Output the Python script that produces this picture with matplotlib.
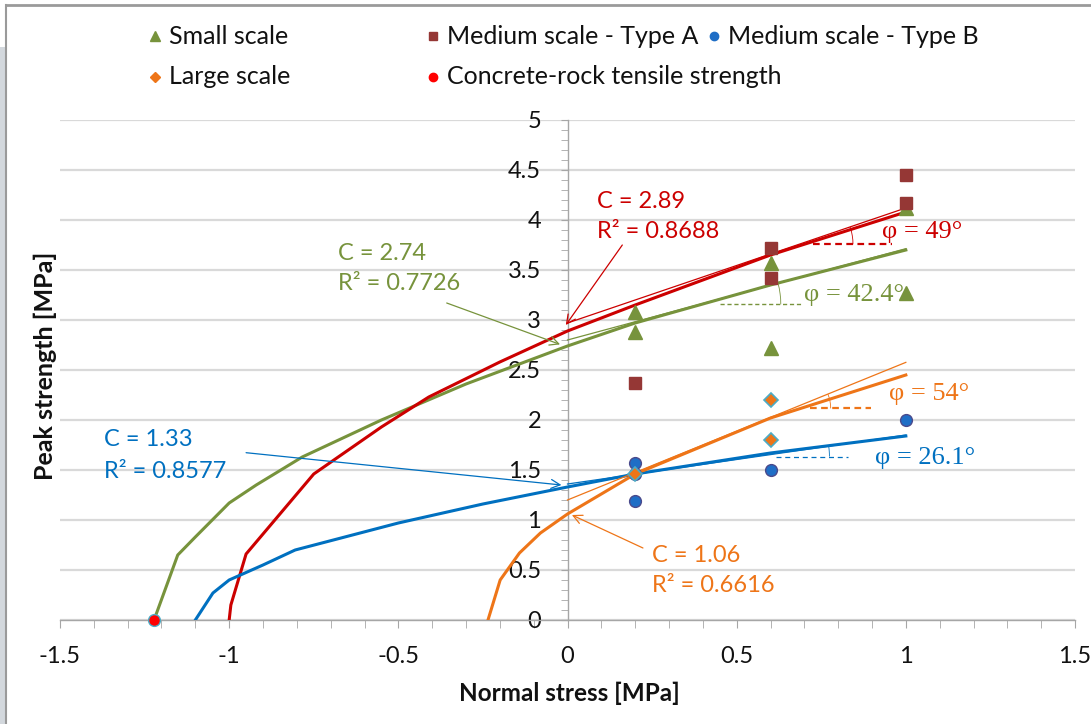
import matplotlib
matplotlib.use("Agg")
import math
import matplotlib.pyplot as plt
from matplotlib.lines import Line2D
from matplotlib.patches import Arc, Rectangle
from matplotlib.ticker import MultipleLocator

SANS = ["Lato", "DejaVu Sans"]
SERIF = ["Liberation Serif", "DejaVu Serif"]
plt.rcParams["font.family"] = SANS

# ---- measured peak strengths (MPa) ----
small_x = [0.2, 0.2, 0.6, 0.6, 1.0, 1.0]
small_y = [3.08, 2.88, 3.57, 2.72, 4.12, 3.27]
medium_a_x = [0.2, 0.6, 0.6, 1.0, 1.0]
medium_a_y = [2.37, 3.72, 3.42, 4.45, 4.17]
medium_b_x = [0.2, 0.2, 0.2, 0.6, 1.0]
medium_b_y = [1.57, 1.46, 1.19, 1.50, 2.00]
large_x = [0.2, 0.6, 0.6]
large_y = [1.46, 2.20, 1.80]
tensile_x = [-1.222]
tensile_y = [0.0]

# ---- fitted failure envelopes ----
small_fit_x = [-1.222, -1.152, -1.10, -1.00, -0.92, -0.784, -0.55, -0.30, 0.0, 0.2, 0.6, 1.0]
small_fit_y = [0.0, 0.65, 0.83, 1.17, 1.35, 1.63, 2.00, 2.36, 2.74, 2.97, 3.35, 3.70]
medium_a_fit_x = [-1.0, -0.995, -0.95, -0.75, -0.55, -0.41, -0.2, 0.0, 0.2, 0.6, 1.0]
medium_a_fit_y = [0.0, 0.15, 0.66, 1.46, 1.93, 2.23, 2.58, 2.89, 3.15, 3.65, 4.08]
medium_b_fit_x = [-1.10, -1.048, -1.0, -0.9, -0.805, -0.5, -0.25, 0.0, 0.2, 0.6, 1.0]
medium_b_fit_y = [0.0, 0.27, 0.40, 0.55, 0.70, 0.97, 1.16, 1.33, 1.46, 1.67, 1.84]
large_fit_x = [-0.235, -0.199, -0.142, -0.08, 0.0, 0.2, 0.6, 1.0]
large_fit_y = [0.0, 0.40, 0.67, 0.87, 1.06, 1.46, 2.02, 2.45]

# ---- fit parameters: cohesion, R², friction angle, tangent intercept ----
cohesion = {"small": 2.74, "medium_a": 2.89, "medium_b": 1.33, "large": 1.06}
r_squared = {"small": 0.7726, "medium_a": 0.8688, "medium_b": 0.8577, "large": 0.6616}
phi_deg = {"small": 42.4, "medium_a": 49, "medium_b": 26.1, "large": 54}
tangent_c = {"small": 2.80, "medium_a": 2.97, "medium_b": 1.36, "large": 1.20}

x_ticks = [-1.5, -1.0, -0.5, 0.0, 0.5, 1.0, 1.5]
x_tick_labels = ["-1.5", "-1", "-0.5", "0", "0.5", "1", "1.5"]
y_ticks = [0, 0.5, 1, 1.5, 2, 2.5, 3, 3.5, 4, 4.5, 5]
y_tick_labels = ["0", "0.5", "1", "1.5", "2", "2.5", "3", "3.5", "4", "4.5", "5"]

# ---- styling ----
GREEN = "#77933C"
RED = "#CC0000"
BLUE = "#0070C0"
ORANGE = "#EE7518"
SQUARE = "#953735"
PT_BLUE = "#1F6EC6"
PT_BLUE_EDGE = "#4A4A8C"
CYAN_EDGE = "#4BACC6"
GRID = "#D9D9D9"
AXIS = "#A6A6A6"

W, H = 1091, 724
fig = plt.figure(figsize=(W / 100, H / 100), dpi=100)
fig.patch.set_facecolor("white")


def fx(px):
    return px / W


def fy(py):
    return 1 - py / H


# window frame around the chart
fig.add_artist(Rectangle((0, 0), fx(5), fy(47), transform=fig.transFigure,
                         facecolor="#D3D8DD", edgecolor="none"))
fig.add_artist(Line2D([fx(6), fx(6)], [0, fy(5)], transform=fig.transFigure,
                      color="#9A9A9A", lw=1.5))
fig.add_artist(Line2D([fx(6), 1], [fy(5), fy(5)], transform=fig.transFigure,
                      color="#9A9A9A", lw=2))

ax = fig.add_axes([fx(60), fy(620), fx(1075) - fx(60), fy(120) - fy(620)])
ax.set_xlim(-1.5, 1.5)
ax.set_ylim(0, 5)
ax.set_facecolor("none")

for s in ("top", "right"):
    ax.spines[s].set_visible(False)
ax.spines["left"].set_position(("data", 0))
ax.spines["left"].set_color(AXIS)
ax.spines["bottom"].set_color(AXIS)
ax.spines["left"].set_linewidth(1.0)
ax.spines["bottom"].set_linewidth(1.0)

ax.set_xticks(x_ticks)
ax.set_xticklabels(x_tick_labels)
ax.set_yticks(y_ticks)
ax.set_yticklabels(y_tick_labels)
ax.xaxis.set_minor_locator(MultipleLocator(0.1))
ax.yaxis.set_minor_locator(MultipleLocator(0.1))
ax.tick_params(axis="x", which="both", direction="out", length=6, color=AXIS,
               labelsize=17, pad=13, labelcolor="#111111")
ax.tick_params(axis="y", which="both", direction="out", length=5, color=AXIS,
               labelsize=17, pad=14, labelcolor="#111111")
ax.yaxis.grid(True, which="major", color=GRID, lw=1.6)
ax.set_axisbelow(True)

# failure envelopes
ax.plot(small_fit_x, small_fit_y, color=GREEN, lw=2.2, zorder=3)
ax.plot(medium_a_fit_x, medium_a_fit_y, color=RED, lw=2.2, zorder=3)
ax.plot(medium_b_fit_x, medium_b_fit_y, color=BLUE, lw=2.2, zorder=3)
ax.plot(large_fit_x, large_fit_y, color=ORANGE, lw=2.2, zorder=3)

# tangent lines from the friction angle
line_colors = {"small": GREEN, "medium_a": RED, "medium_b": BLUE, "large": ORANGE}
for key, col in line_colors.items():
    k = math.tan(math.radians(phi_deg[key]))
    ax.plot([0, 1], [tangent_c[key], tangent_c[key] + k], color=col, lw=0.9, zorder=3)

# angle construction: dashed horizontal + small arc
px_x = (1075 - 60) / 3.0
px_y = (620 - 120) / 5.0
angle_marks = {
    "medium_a": dict(level=3.757, x0=0.725, x1=0.96, r=54, lw=1.6, ls=(0, (3, 2))),
    "small": dict(level=3.157, x0=0.451, x1=0.696, r=81, lw=1.0, ls=(0, (3, 2))),
    "large": dict(level=2.116, x0=0.716, x1=0.898, r=38, lw=1.6, ls=(0, (3, 2))),
    "medium_b": dict(level=1.635, x0=0.617, x1=0.829, r=72, lw=0.9, ls=(0, (4, 3))),
}
for key, m in angle_marks.items():
    col = line_colors[key]
    ax.plot([m["x0"], m["x1"]], [m["level"], m["level"]], color=col, lw=m["lw"],
            ls=m["ls"], zorder=3)
    k = math.tan(math.radians(phi_deg[key]))
    xc = (m["level"] - tangent_c[key]) / k
    ax.add_patch(Arc((xc, m["level"]), 2 * m["r"] / px_x, 2 * m["r"] / px_y,
                     theta1=0, theta2=phi_deg[key], color=col, lw=0.6, zorder=3))

# measured points
ax.plot(small_x, small_y, ls="none", marker="^", ms=10, color=GREEN, mec=GREEN, zorder=5)
ax.plot(medium_a_x, medium_a_y, ls="none", marker="s", ms=8.5, color=SQUARE, mec=SQUARE, zorder=5)
ax.plot(medium_b_x, medium_b_y, ls="none", marker="o", ms=8.5, color=PT_BLUE,
        mec=PT_BLUE_EDGE, mew=1.0, zorder=5)
ax.plot(large_x, large_y, ls="none", marker="D", ms=7, color=ORANGE,
        mec=CYAN_EDGE, mew=1.2, zorder=6)
ax.plot(tensile_x, tensile_y, ls="none", marker="o", ms=8.5, color="#FF0000",
        mec=CYAN_EDGE, mew=1.0, zorder=6, clip_on=False)

# cohesion / R² labels with arrows
labels = {
    "medium_a": dict(pos=(0.088, 4.19), tail=(0.162, 3.75), head=(-0.005, 2.95), col=RED),
    "small": dict(pos=(-0.677, 3.67), tail=(-0.357, 3.17), head=(-0.022, 2.756), col=GREEN),
    "medium_b": dict(pos=(-1.37, 1.80), tail=(-0.95, 1.673), head=(-0.018, 1.35), col=BLUE),
    "large": dict(pos=(0.25, 0.65), tail=(0.223, 0.72), head=(0.013, 1.05), col=ORANGE),
}
for key, d in labels.items():
    x, y = d["pos"]
    ax.text(x, y, f"C = {cohesion[key]:.2f}", color=d["col"], fontsize=17,
            ha="left", va="center", zorder=7)
    ax.text(x, y - 0.31, f"R² = {r_squared[key]:.4f}", color=d["col"], fontsize=17,
            ha="left", va="center", zorder=7)
    ax.annotate("", xy=d["head"], xytext=d["tail"],
                arrowprops=dict(arrowstyle="->", color=d["col"], lw=0.9,
                                mutation_scale=16, shrinkA=0, shrinkB=0), zorder=7)

# friction angle labels
phi_pos = {"medium_a": (0.93, 3.88), "small": (0.70, 3.25),
           "large": (0.95, 2.26), "medium_b": (0.908, 1.618)}
for key, (x, y) in phi_pos.items():
    ax.text(x, y, f"φ = {phi_deg[key]:g}°", color=line_colors[key], fontsize=19,
            family=SERIF, ha="left", va="center", zorder=7)

# axis titles
fig.text(fx(569), fy(693), "Normal stress [MPa]", ha="center", va="center",
         fontsize=17.5, fontweight="bold", color="#111111")
fig.text(fx(45), fy(366), "Peak strength [MPa]", ha="center", va="center",
         rotation=90, fontsize=18, fontweight="bold", color="#111111")

# legend
legend_entries = [
    ("Small scale", 155, 36, dict(marker="^", color=GREEN, mec=GREEN, ms=7)),
    ("Medium scale - Type A", 433, 36, dict(marker="s", color=SQUARE, mec=SQUARE, ms=6)),
    ("Medium scale - Type B", 714, 36, dict(marker="o", color=PT_BLUE, mec=PT_BLUE, ms=6)),
    ("Large scale", 155, 77, dict(marker="D", color=ORANGE, mec=ORANGE, ms=5)),
    ("Concrete-rock tensile strength", 433, 77, dict(marker="o", color="#FF0000", mec="#FF0000", ms=6)),
]
for text, mx, my, style in legend_entries:
    fig.add_artist(Line2D([fx(mx)], [fy(my)], transform=fig.transFigure, ls="none", **style))
    fig.text(fx(mx + 14), fy(my), text, ha="left", va="center", fontsize=18, color="#111111")

fig.savefig("out.png", dpi=100, facecolor="white")
